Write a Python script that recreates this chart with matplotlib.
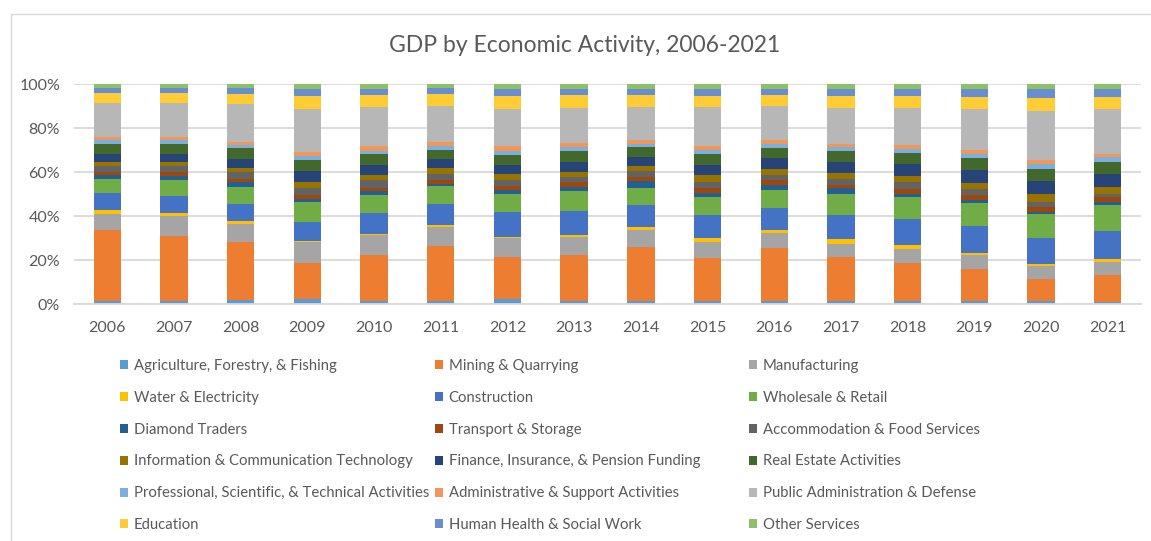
import numpy as np
import matplotlib.pyplot as plt
from matplotlib.patches import Rectangle

plt.rcParams['font.family'] = ['Lato', 'DejaVu Sans']

years = [str(y) for y in range(2006, 2022)]

sectors = [
    "Agriculture, Forestry, & Fishing",
    "Mining & Quarrying",
    "Manufacturing",
    "Water & Electricity",
    "Construction",
    "Wholesale & Retail",
    "Diamond Traders",
    "Transport & Storage",
    "Accommodation & Food Services",
    "Information & Communication Technology",
    "Finance, Insurance, & Pension Funding",
    "Real Estate Activities",
    "Professional, Scientific, & Technical Activities",
    "Administrative & Support Activities",
    "Public Administration & Defense",
    "Education",
    "Human Health & Social Work",
    "Other Services",
]

# share of GDP (%) per sector, 2006-2021
agriculture = [1.5, 1.5, 1.8, 2.4, 1.7, 1.7, 2.3, 1.7, 1.5, 1.4, 1.7, 1.4, 1.7, 1.7, 1.7, 1.2]
mining = [32.3, 29.7, 26.6, 16.4, 20.9, 25.0, 19.0, 20.9, 24.5, 19.6, 23.9, 20.1, 17.2, 14.3, 9.7, 12.2]
manufacturing = [7.3, 9.0, 8.2, 9.3, 9.1, 8.4, 8.8, 8.2, 7.8, 7.3, 7.0, 6.1, 6.2, 6.4, 5.8, 5.8]
water = [1.8, 1.5, 1.4, 0.5, 0.5, 0.8, 0.5, 0.9, 1.2, 1.7, 1.2, 2.1, 2.0, 1.1, 1.2, 1.4]
construction = [7.5, 7.8, 7.5, 9.0, 9.6, 10.0, 11.1, 10.8, 9.9, 10.8, 10.0, 10.7, 11.7, 11.9, 11.7, 12.5]
wholesale = [6.5, 7.2, 7.6, 8.7, 8.2, 7.8, 8.5, 9.1, 7.9, 7.9, 8.2, 9.6, 9.7, 10.8, 11.1, 11.9]
diamond = [2.1, 2.0, 2.3, 1.7, 1.4, 1.1, 1.5, 1.8, 3.3, 2.1, 2.4, 2.6, 1.5, 1.2, 0.8, 1.5]
transport = [1.2, 1.4, 1.7, 1.8, 1.7, 1.8, 2.1, 2.0, 1.8, 2.0, 2.0, 1.5, 2.4, 2.3, 2.4, 2.3]
accommodation = [2.7, 2.9, 2.9, 3.2, 3.3, 2.9, 2.7, 2.6, 2.7, 2.9, 2.6, 3.0, 2.9, 2.7, 2.1, 1.5]
ict = [1.8, 2.0, 2.1, 2.4, 2.3, 2.6, 2.4, 2.3, 2.4, 2.9, 2.6, 2.4, 2.9, 2.9, 3.5, 3.0]
finance = [3.7, 3.7, 4.1, 5.0, 4.6, 4.3, 4.1, 4.6, 3.7, 4.6, 4.9, 5.0, 5.3, 5.9, 6.1, 6.1]
real_estate = [4.6, 4.3, 4.9, 5.2, 5.0, 4.0, 4.9, 4.6, 4.6, 5.0, 4.7, 4.9, 5.0, 5.2, 5.2, 5.5]
professional = [1.7, 1.7, 1.2, 1.8, 1.7, 1.7, 1.8, 1.8, 1.7, 2.0, 1.7, 2.1, 2.1, 1.8, 2.3, 2.0]
administrative = [1.5, 1.4, 1.7, 1.7, 2.0, 2.0, 2.0, 1.8, 1.8, 1.8, 1.7, 1.5, 1.5, 2.0, 2.0, 1.5]
public_admin = [15.1, 15.5, 17.0, 19.9, 17.7, 16.3, 17.0, 16.3, 14.9, 17.8, 15.5, 16.3, 17.0, 18.7, 22.1, 20.2]
education = [4.6, 4.6, 4.6, 5.8, 5.5, 5.3, 5.9, 5.6, 5.2, 5.0, 4.9, 5.3, 5.3, 5.3, 6.2, 5.6]
health = [2.3, 2.3, 2.6, 2.9, 2.7, 2.7, 2.9, 2.7, 2.7, 2.9, 2.9, 3.0, 3.0, 3.5, 3.8, 3.5]
other = [1.8, 1.8, 1.8, 2.3, 2.3, 1.8, 2.3, 2.3, 2.3, 2.3, 2.1, 2.3, 2.3, 2.3, 2.3, 2.3]

series = [agriculture, mining, manufacturing, water, construction, wholesale,
          diamond, transport, accommodation, ict, finance, real_estate,
          professional, administrative, public_admin, education, health, other]

# Office palette: accents, darker accents, lighter accents
colors = ['#5B9BD5', '#ED7D31', '#A5A5A5', '#FFC000', '#4472C4', '#70AD47',
          '#255E91', '#9E480E', '#636363', '#997300', '#264478', '#43682B',
          '#7CAFDD', '#F1975A', '#B7B7B7', '#FFCD33', '#698ED0', '#8CC168']

text_col = '#595959'
grid_col = '#D9D9D9'

data = np.array(series, dtype=float)
share = data / data.sum(axis=0) * 100

W, H = 1151, 541
fig = plt.figure(figsize=(W / 100, H / 100), dpi=100)
fig.add_artist(Rectangle((11 / W, -0.5), 2, 0.5 + (H - 14) / H, transform=fig.transFigure,
                         fill=False, edgecolor=grid_col, linewidth=1))

ax = fig.add_axes([74 / W, 1 - 304.3 / H, (1141 - 74) / W, (304.3 - 84.3) / H])
x = np.arange(len(years))
bottom = np.zeros(len(years))
bars = []
for vals, name, c in zip(share, sectors, colors):
    b = ax.bar(x, vals, bottom=bottom, width=0.41, color=c, label=name, linewidth=0)
    bars.append(b)
    bottom += vals

ax.set_xlim(-0.5, len(years) - 0.5)
ax.set_ylim(0, 100)
ax.set_yticks(range(0, 101, 20))
ax.set_yticklabels([f"{v}%" for v in range(0, 101, 20)])
ax.set_xticks(x)
ax.set_xticklabels(years)
ax.tick_params(length=0, labelsize=11.5, colors=text_col)
ax.tick_params(axis='x', pad=12)
ax.tick_params(axis='y', pad=10)
ax.yaxis.grid(True, color=grid_col, linewidth=1.3)
ax.set_axisbelow(True)
for s in ['top', 'right', 'left']:
    ax.spines[s].set_visible(False)
ax.spines['bottom'].set_color(grid_col)
ax.spines['bottom'].set_linewidth(1.3)

fig.text(585 / W, 1 - 46 / H, "GDP by Economic Activity, 2006-2021",
         ha='center', va='center', fontsize=16.5, color=text_col)

# legend in three fixed-width columns, filled row by row
col_x = [120, 435, 749]
for ci in range(3):
    handles = [bars[i] for i in range(ci, len(bars), 3)]
    labels = [sectors[i] for i in range(ci, len(sectors), 3)]
    leg = fig.legend(handles, labels, loc='upper left',
                     bbox_to_anchor=(col_x[ci] / W, 1 - 359 / H),
                     frameon=False, fontsize=10.7, borderpad=0, borderaxespad=0,
                     handlelength=0.57, handleheight=0.57, handletextpad=0.35,
                     labelspacing=1.2)
    for t in leg.get_texts():
        t.set_color(text_col)

fig.savefig("out.png", dpi=100)
